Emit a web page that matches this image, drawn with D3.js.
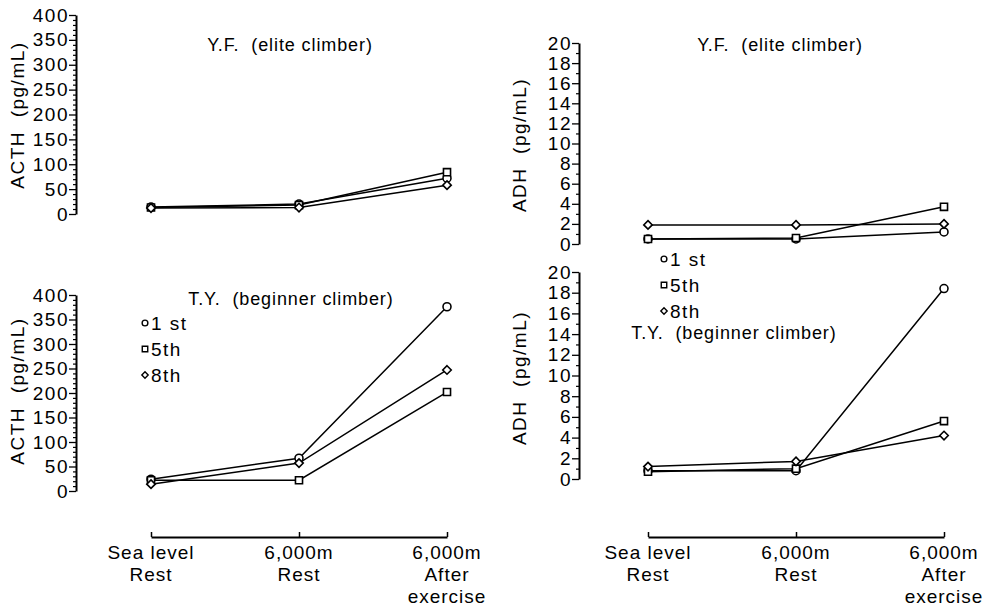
<!DOCTYPE html>
<html>
<head>
<meta charset="utf-8">
<script src="https://cdn.jsdelivr.net/npm/d3@7"></script>
<style>
  html, body { margin: 0; padding: 0; background: #fff; }
  svg { display: block; font-family: "Liberation Sans", Arial, Helvetica, sans-serif; }
  text { white-space: pre; fill: #000; }
</style>
</head>
<body>
<svg id="chart" width="986" height="608"></svg>
<script>
// ---------- data ----------
const categories = ["Sea level|Rest", "6,000m|Rest", "6,000m|After|exercise"];
const seriesNames = ["1 st", "5th", "8th"];
const seriesSymbols = ["circle", "square", "diamond"];

const acthTicks = [0, 50, 100, 150, 200, 250, 300, 350, 400];
const adhTicks = [0, 2, 4, 6, 8, 10, 12, 14, 16, 18, 20];

// ACTH (pg/mL), Y.F. (elite climber)
const acthYF1 = [14, 20, 72];
const acthYF5 = [13, 18, 84];
const acthYF8 = [12, 13, 58];
// ACTH (pg/mL), T.Y. (beginner climber)
const acthTY1 = [24, 67, 376];
const acthTY5 = [22, 22, 202];
const acthTY8 = [14, 57, 247];
// ADH (pg/mL), Y.F. (elite climber)
const adhYF1 = [0.5, 0.5, 1.2];
const adhYF5 = [0.5, 0.6, 3.7];
const adhYF8 = [1.9, 1.9, 2.0];
// ADH (pg/mL), T.Y. (beginner climber)
const adhTY1 = [0.8, 0.8, 18.4];
const adhTY5 = [0.7, 1.0, 5.6];
const adhTY8 = [1.2, 1.7, 4.2];

// ---------- layout ----------
const svg = d3.select("#chart");

const panels = [
  { title: "Y.F.  (elite climber)", ylabel: "ACTH  (pg/mL)", ticks: acthTicks, minorStep: 10,
    data: [acthYF1, acthYF5, acthYF8], axisX: 76, y0: 214, y1: 15, xr: [151, 447],
    titleX: 290, titleY: 51, labelX: 24, labelY: 115, legend: null, xaxis: false },
  { title: "T.Y.  (beginner climber)", ylabel: "ACTH  (pg/mL)", ticks: acthTicks, minorStep: 10,
    data: [acthTY1, acthTY5, acthTY8], axisX: 76, y0: 491, y1: 295, xr: [151, 447],
    titleX: 291, titleY: 305, labelX: 24, labelY: 391, legend: { x: 145, y: 323 }, xaxis: true },
  { title: "Y.F.  (elite climber)", ylabel: "ADH  (pg/mL)", ticks: adhTicks, minorStep: 1,
    data: [adhYF1, adhYF5, adhYF8], axisX: 579, y0: 244, y1: 43, xr: [648, 944],
    titleX: 780, titleY: 51, labelX: 526, labelY: 145, legend: null, xaxis: false },
  { title: "T.Y.  (beginner climber)", ylabel: "ADH  (pg/mL)", ticks: adhTicks, minorStep: 1,
    data: [adhTY1, adhTY5, adhTY8], axisX: 579, y0: 479, y1: 272, xr: [648, 944],
    titleX: 734, titleY: 339, labelX: 526, labelY: 378, legend: { x: 664, y: 259 }, xaxis: true }
];

// rotated-square diamond
const symbolRhomb = {
  draw(context, size) {
    const r = Math.sqrt(size / 2);
    context.moveTo(0, -r);
    context.lineTo(r, 0);
    context.lineTo(0, r);
    context.lineTo(-r, 0);
    context.closePath();
  }
};
const symbolMap = { circle: d3.symbolCircle, square: d3.symbolSquare, diamond: symbolRhomb };
const symbolSize = { circle: 50, square: 50, diamond: 36 };
const legendSize = { circle: 26, square: 30, diamond: 20 };

panels.forEach(p => {
  const g = svg.append("g");
  const maxV = p.ticks[p.ticks.length - 1];
  const y = d3.scaleLinear().domain([0, maxV]).range([p.y0, p.y1]);
  const x = d3.scalePoint().domain(categories).range(p.xr);

  // minor ticks
  const minorVals = d3.range(0, maxV + 1e-9, p.minorStep).filter(v => !p.ticks.includes(v));
  g.append("g")
    .attr("transform", `translate(${p.axisX},0)`)
    .call(d3.axisLeft(y).tickValues(minorVals).tickSize(3).tickSizeOuter(0).tickFormat(""))
    .call(a => a.select(".domain").remove())
    .call(a => a.selectAll("line").attr("stroke", "#000").attr("stroke-width", 1.2));

  // major axis
  const ay = g.append("g")
    .attr("transform", `translate(${p.axisX},0)`)
    .call(d3.axisLeft(y).tickValues(p.ticks).tickSize(7).tickSizeOuter(0).tickPadding(0));
  ay.select(".domain").attr("stroke", "#000").attr("stroke-width", 2);
  ay.selectAll(".tick line").attr("stroke", "#000").attr("stroke-width", 1.3);
  ay.selectAll(".tick text")
    .attr("font-size", 19).attr("letter-spacing", "1.5px")
    .attr("font-family", "'Liberation Sans', Arial, sans-serif")
    .attr("fill", "#000");

  // y label
  g.append("text")
    .attr("transform", `translate(${p.labelX},${p.labelY}) rotate(-90)`)
    .attr("text-anchor", "middle")
    .attr("font-size", 19).attr("letter-spacing", "1.5px")
    .text(p.ylabel);

  // title
  g.append("text")
    .attr("x", p.titleX).attr("y", p.titleY)
    .attr("text-anchor", "middle")
    .attr("font-size", 18).attr("letter-spacing", "0.9px")
    .text(p.title);

  // x axis
  if (p.xaxis) {
    const ax = g.append("g")
      .attr("transform", `translate(0,537)`)
      .call(d3.axisTop(x).tickSize(5).tickSizeOuter(0).tickFormat(""));
    ax.select(".domain").attr("stroke", "#000").attr("stroke-width", 1.8);
    ax.selectAll(".tick line").attr("stroke", "#000").attr("stroke-width", 1.5);
    categories.forEach(c => {
      const parts = c.split("|");
      const t = g.append("text")
        .attr("x", x(c)).attr("y", 559)
        .attr("text-anchor", "middle")
        .attr("font-size", 19).attr("letter-spacing", "1px");
      parts.forEach((s, i) => {
        t.append("tspan").attr("x", x(c)).attr("dy", i === 0 ? 0 : 22).text(s);
      });
    });
  }

  // lines
  const line = d3.line().x((d, i) => x(categories[i])).y(d => y(d));
  p.data.forEach((vals, si) => {
    g.append("path")
      .datum(vals)
      .attr("d", line)
      .attr("fill", "none")
      .attr("stroke", "#000")
      .attr("stroke-width", 1.5);
  });
  // markers
  p.data.forEach((vals, si) => {
    const sym = seriesSymbols[si];
    g.selectAll(null)
      .data(vals)
      .join("path")
      .attr("transform", (d, i) => `translate(${x(categories[i])},${y(d)})`)
      .attr("d", d3.symbol().type(symbolMap[sym]).size(symbolSize[sym]))
      .attr("fill", "#fff")
      .attr("stroke", "#000")
      .attr("stroke-width", 1.6);
  });

  // legend
  if (p.legend) {
    seriesNames.forEach((name, si) => {
      const sym = seriesSymbols[si];
      const ly = p.legend.y + si * 26;
      g.append("path")
        .attr("transform", `translate(${p.legend.x},${ly})`)
        .attr("d", d3.symbol().type(symbolMap[sym]).size(legendSize[sym]))
        .attr("fill", "#fff").attr("stroke", "#000").attr("stroke-width", 1.4);
      g.append("text")
        .attr("x", p.legend.x + 6).attr("y", ly + 7)
        .attr("font-size", 19).attr("letter-spacing", "1.5px")
        .text(name);
    });
  }
});
</script>
</body>
</html>
